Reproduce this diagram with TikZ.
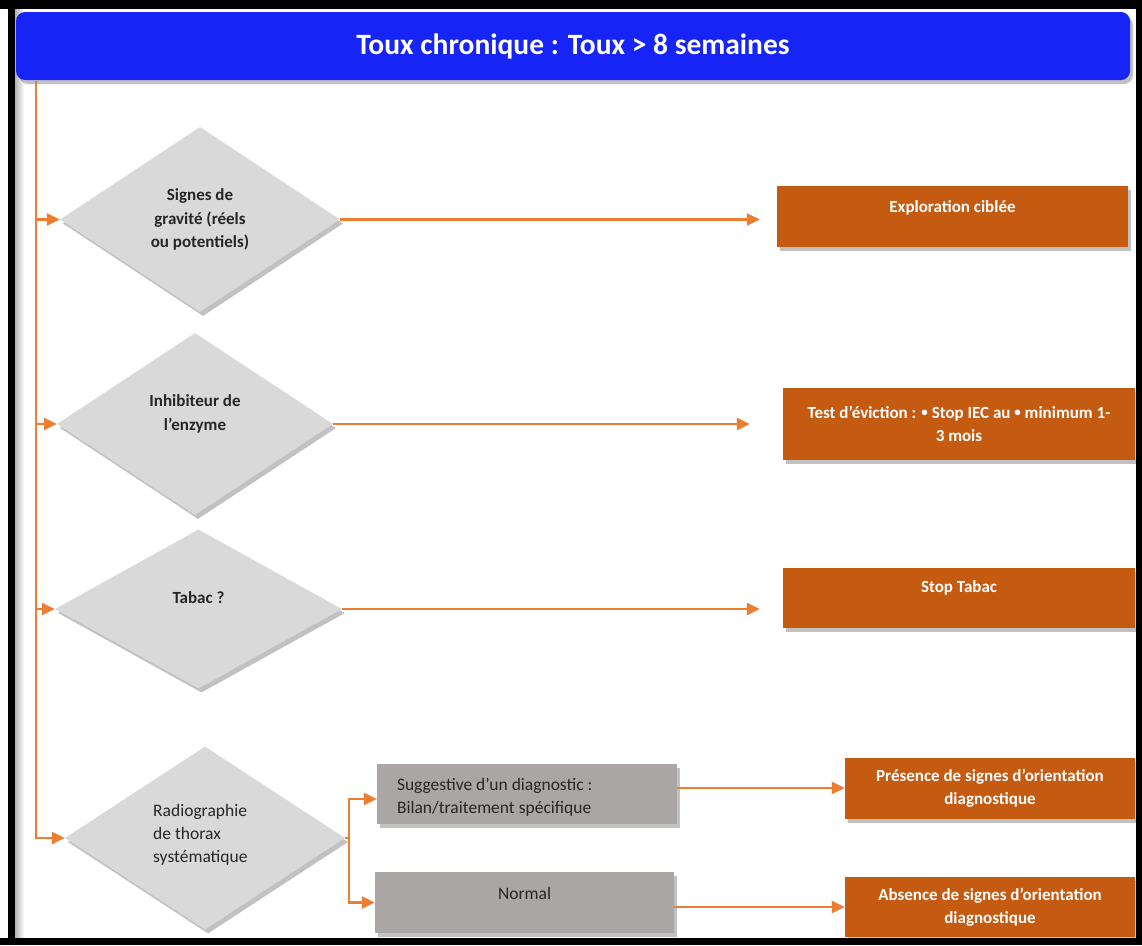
\documentclass[tikz,border=0pt]{standalone}
\usepackage{fontspec}
\setmainfont{Carlito}
\usetikzlibrary{shapes.geometric,arrows.meta,shadows}
\definecolor{hdrblue}{RGB}{22,36,245}
\definecolor{boxorange}{RGB}{197,90,17}
\definecolor{lineorange}{RGB}{237,125,49}
\definecolor{dgrey}{RGB}{217,217,217}
\definecolor{bgrey}{RGB}{170,166,166}
\definecolor{txtdark}{RGB}{38,38,38}
\newcommand{\smallbul}{\raisebox{1.8pt}{\fontsize{13}{23}\selectfont •}}
\begin{document}
\begin{tikzpicture}[x=1pt,y=-1pt,
  shadowed/.style={drop shadow={shadow xshift=3pt,shadow yshift=-4pt,opacity=0.3,fill=black!80}},
  hdr/.style={rectangle, rounded corners=9pt, fill=hdrblue, minimum width=1114pt, minimum height=68pt, inner sep=0pt, shadowed,
    font=\fontsize{29.5}{34}\selectfont\bfseries, text=white},
  dec/.style={diamond, fill=dgrey, inner sep=0pt, shadowed},
  obox/.style={rectangle, fill=boxorange, inner sep=0pt, shadowed},
  gbox/.style={rectangle, fill=bgrey, inner sep=0pt, shadowed},
  dtext/.style={font=\fontsize{17}{23.5}\selectfont\bfseries, text=txtdark, align=center, inner sep=0pt},
  otext/.style={font=\fontsize{17}{23}\selectfont\bfseries, text=white, align=center, inner sep=0pt},
  gtext/.style={font=\fontsize{17.5}{23.5}\selectfont, text=txtdark, inner sep=0pt},
  conn/.style={draw=lineorange, line width=2.4pt},
  arr/.style={conn, -{Triangle[length=13pt,width=12pt]}},
]
\useasboundingbox (0,0) rectangle (1142,945);
\fill[white] (0,0) rectangle (1142,945);
\shade[left color=black!30, right color=white] (15,9) rectangle (24,938);

% header
\node[hdr] (hdr) at (573,46) {Toux chronique : Toux > 8 semaines};

% decisions
\node[dec, minimum width=280pt, minimum height=185pt] (d1) at (200,219.5) {};
\node[dtext] (d1t) at (d1.center) {Signes de\\gravité (réels\\ou potentiels)};
\node[dec, minimum width=276pt, minimum height=182pt] (d2) at (195,424) {};
\node[dtext] (d2t) at ([yshift=10pt]d2.center) {Inhibiteur de\\l’enzyme};
\node[dec, minimum width=287pt, minimum height=159pt] (d3) at (198.5,609) {};
\node[dtext] (d3t) at ([yshift=11pt]d3.center) {Tabac ?};
\node[dec, minimum width=280pt, minimum height=183pt] (d4) at (205,838) {};
\node[dtext, font=\fontsize{17.5}{23}\selectfont, align=left, anchor=west] (d4t) at (153,835) {Radiographie\\de thorax\\systématique};

% orange outcome boxes
\node[obox, minimum width=351pt, minimum height=61pt] (o1) at (952.5,216.5) {};
\node[otext] (o1t) at ([yshift=8.5pt]o1.center) {Exploration ciblée};
\node[obox, otext, minimum width=352pt, minimum height=72pt] (o2) at (959,424) {Test d’éviction : \smallbul{} Stop IEC au \smallbul{} minimum 1-\\3 mois};
\node[obox, minimum width=352pt, minimum height=60pt] (o3) at (959,598) {};
\node[otext] (o3t) at ([yshift=10pt]o3.center) {Stop Tabac};
\node[obox, otext, minimum width=290pt, minimum height=61pt] (o4) at (990,788) {Présence de signes d’orientation\\diagnostique};
\node[obox, otext, minimum width=290pt, minimum height=60pt] (o5) at (990,907) {Absence de signes d’orientation\\diagnostique};

% grey boxes
\node[gbox, minimum width=300pt, minimum height=60pt] (g1) at (527,794) {};
\node[gtext, align=left, anchor=west] (g1t) at ([xshift=20pt,yshift=-3pt]g1.west) {Suggestive d’un diagnostic :\\Bilan/traitement spécifique};
\node[gbox, minimum width=299pt, minimum height=61pt] (g2) at (524.5,902.5) {};
\node[gtext] (g2t) at ([yshift=9.5pt]g2.center) {Normal};

% connectors
\coordinate (t0) at (36,81);
\draw[arr] (t0) |- (d4.west);
\draw[arr] (t0 |- d1.west) -- (d1.west);
\draw[arr] (t0 |- d2.west) -- (d2.west);
\draw[arr] (t0 |- d3.west) -- (d3.west);
\draw[arr, shorten >=17pt] (d1.east) -- (d1.east -| o1.west);
\draw[arr, shorten >=33pt] (d2.east) -- (d2.east -| o2.west);
\draw[arr, shorten >=23pt] (d3.east) -- (d3.east -| o3.west);
\coordinate (br) at ([xshift=4pt]d4.east);
\draw[conn] (d4.east) -- (br);
\draw[arr] (br) |- ([yshift=-5pt]g1.west);
\draw[arr] (br) |- (g2.west);
\draw[arr] (o4.west -| g1.east) -- (o4.west);
\draw[arr] (o5.west -| g2.east) -- (o5.west);

% frame
\fill[black] (0,0) rectangle (1142,9);
\fill[black] (8,0) rectangle (15,945);
\fill[black] (1136,0) rectangle (1142,945);
\fill[black] (0,938) rectangle (1142,945);
\end{tikzpicture}
\end{document}
